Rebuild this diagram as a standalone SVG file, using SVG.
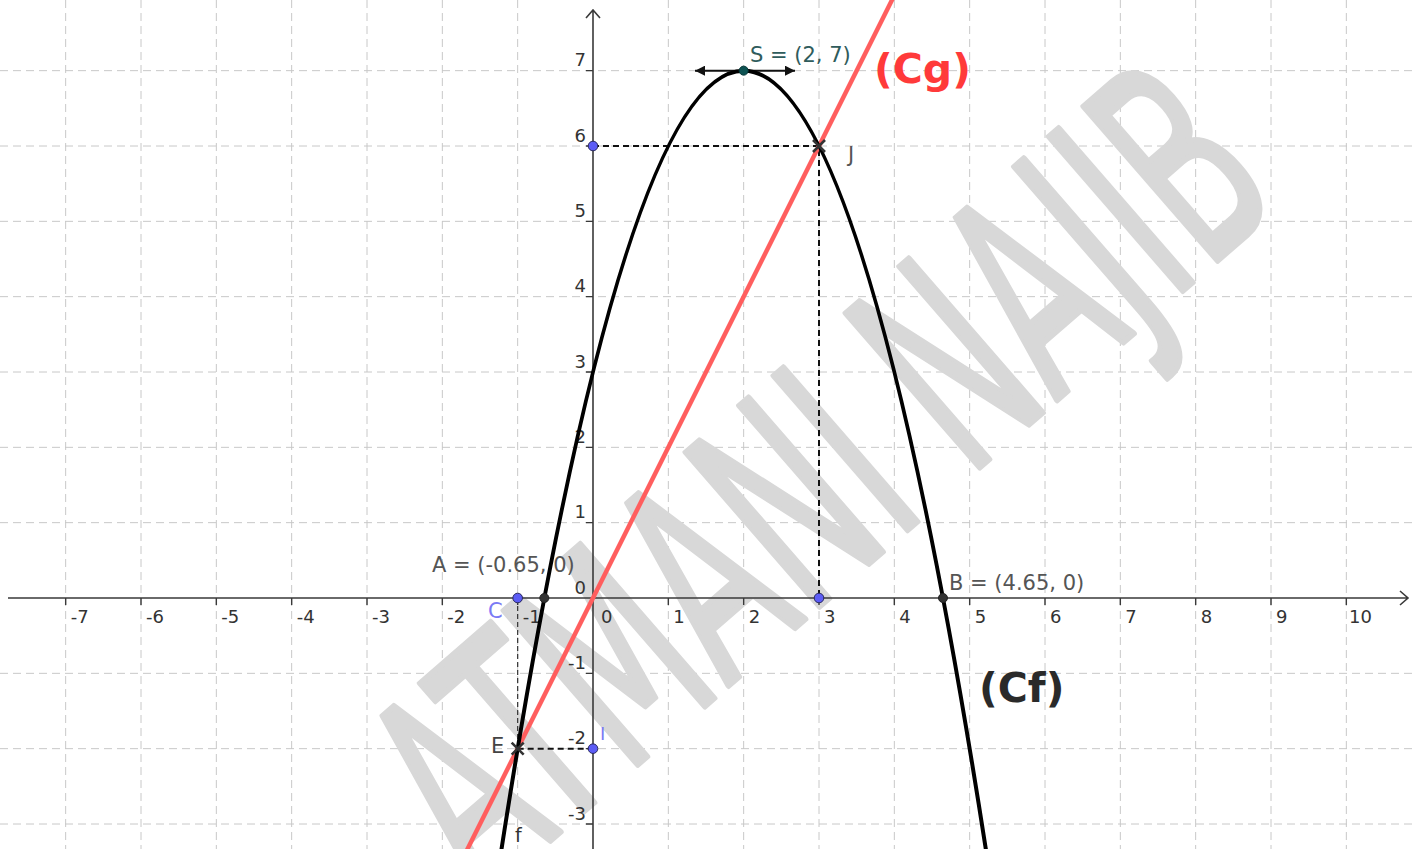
<svg xmlns="http://www.w3.org/2000/svg" width="1416" height="849" viewBox="0 0 1416 849">
<defs>
<style>
.grid{stroke:#c8c8c8;stroke-width:1;stroke-dasharray:8 5;fill:none}
.axis{stroke:#3a3a3a;stroke-width:1.6;fill:none}
.tick{stroke:#3a3a3a;stroke-width:1.4}
.num{font-family:"DejaVu Sans",sans-serif;font-size:18px;fill:#333}
.ynum{font-family:"DejaVu Sans",sans-serif;font-size:18px;fill:#333;text-anchor:end}
.lbl{font-family:"DejaVu Sans",sans-serif;font-size:21px;fill:#555}
.big{font-family:"DejaVu Sans",sans-serif;font-weight:bold;font-size:41px}
.dash{stroke:#111;stroke-width:2;stroke-dasharray:6 4;fill:none}
.dashthin{stroke:#333;stroke-width:1.2;stroke-dasharray:5 3;fill:none}
.bpt{fill:#5c5cf5;stroke:#2a2a60;stroke-width:1}
.kpt{fill:#333;stroke:#222;stroke-width:1}
.cross{stroke:#333;stroke-width:2.6}
</style>
<marker id="ah" viewBox="0 0 10 10" refX="10" refY="5" markerWidth="15" markerHeight="10" markerUnits="userSpaceOnUse" orient="auto-start-reverse">
<path d="M0 0 L10 5 L0 10 z" fill="#111"/>
</marker>
</defs>
<rect width="1416" height="849" fill="#fff"/>
<g id="grid" class="grid">
<path d="M65.67 0V849M141 0V849M216.33 0V849M291.67 0V849M367 0V849M442.33 0V849M517.67 0V849M668.33 0V849M743.67 0V849M819 0V849M894.33 0V849M969.67 0V849M1045 0V849M1120.33 0V849M1195.67 0V849M1271 0V849M1346.33 0V849"/>
<path d="M0 70.67H1416M0 146H1416M0 221.33H1416M0 296.67H1416M0 372H1416M0 447.33H1416M0 522.67H1416M0 673.33H1416M0 748.67H1416M0 824H1416"/>
</g>
<g id="watermark">
<text transform="translate(482,900) rotate(-41)" font-family="DejaVu Sans, sans-serif" font-size="280" textLength="1065" lengthAdjust="spacingAndGlyphs" fill="#d8d8d8" stroke="#d8d8d8" stroke-width="6" stroke-linejoin="round">ATMANI NAJIB</text>
</g>
<g id="axes">
<path class="axis" d="M8 598H1408M1400 591L1408 598L1400 605"/>
<path class="axis" d="M593 849V10M586 18L593 10L600 18"/>
<path class="tick" d="M65.67 598v7M141 598v7M216.33 598v7M291.67 598v7M367 598v7M442.33 598v7M517.67 598v7M668.33 598v7M743.67 598v7M819 598v7M894.33 598v7M969.67 598v7M1045 598v7M1120.33 598v7M1195.67 598v7M1271 598v7M1346.33 598v7"/>
<path class="tick" d="M586 70.67h7M586 146h7M586 221.33h7M586 296.67h7M586 372h7M586 447.33h7M586 522.67h7M586 673.33h7M586 748.67h7M586 824h7"/>
<g class="num">
<text x="70.67" y="623">-7</text><text x="146" y="623">-6</text><text x="221.33" y="623">-5</text><text x="296.67" y="623">-4</text><text x="372" y="623">-3</text><text x="447.33" y="623">-2</text><text x="522.67" y="623">-1</text><text x="601" y="623">0</text><text x="673.33" y="623">1</text><text x="748.67" y="623">2</text><text x="824" y="623">3</text><text x="899.33" y="623">4</text><text x="974.67" y="623">5</text><text x="1050" y="623">6</text><text x="1125.33" y="623">7</text><text x="1200.67" y="623">8</text><text x="1276" y="623">9</text><text x="1349" y="623">10</text>
</g>
<g class="ynum">
<text x="586" y="66.2">7</text><text x="586" y="141.5">6</text><text x="586" y="216.8">5</text><text x="586" y="292.2">4</text><text x="586" y="367.5">3</text><text x="586" y="442.8">2</text><text x="586" y="518.2">1</text><text x="586" y="593.5">0</text><text x="586" y="668.8">-1</text><text x="586" y="744.2">-2</text><text x="586" y="819.5">-3</text>
</g>
</g>
<g id="connectors">
<path class="dash" d="M593 146H819V598"/>
<path class="dashthin" d="M517.67 598V748.67"/>
<path class="dash" d="M517.67 748.67H593"/>
<path d="M695 70.67H795" stroke="#111" stroke-width="2" marker-start="url(#ah)" marker-end="url(#ah)"/>
</g>
<g id="Cg">
<path d="M449.87 884.27L901.87 -19.73" stroke="#ff5e5e" stroke-width="4.5" fill="none"/>
<text class="big" x="874" y="83" fill="#ff3a3a">(Cg)</text>
</g>
<g id="Cf">
<path d="M495.07 891.05Q743.67 -749.7 992.27 891.05" stroke="#000" stroke-width="4" fill="none"/>
<text class="big" x="979" y="702" fill="#2a2a2a">(Cf)</text>
<text x="515" y="842" font-family="DejaVu Sans, sans-serif" font-size="19" fill="#333">f</text>
</g>
<g id="point-S">
<circle cx="743.67" cy="70.67" r="4.5" fill="#0d5252" stroke="#063838" stroke-width="1"/>
<text class="lbl" x="750" y="62" style="fill:#2f5c5c">S = (2, 7)</text>
</g>
<g id="point-J">
<path class="cross" d="M813 140L825 152M825 140L813 152"/>
<text class="lbl" x="848" y="162">J</text>
</g>
<g id="point-A">
<circle class="kpt" cx="544.35" cy="598" r="4.5"/>
<text class="lbl" x="432" y="572">A = (-0.65, 0)</text>
</g>
<g id="point-B">
<circle class="kpt" cx="942.98" cy="598" r="4.5"/>
<text class="lbl" x="949" y="590">B = (4.65, 0)</text>
</g>
<g id="point-C">
<circle class="bpt" cx="517.67" cy="598" r="4.8"/>
<text class="lbl" x="488" y="618" style="fill:#7a7af5">C</text>
</g>
<g id="point-E">
<path class="cross" d="M511.67 742.67L523.67 754.67M523.67 742.67L511.67 754.67"/>
<text class="lbl" x="491" y="753" style="fill:#444">E</text>
</g>
<g id="point-I">
<circle class="bpt" cx="593" cy="748.67" r="4.8"/>
<text x="600" y="740" font-family="DejaVu Sans, sans-serif" font-size="18" fill="#7a7af5">I</text>
</g>
<g id="point-06">
<circle class="bpt" cx="593" cy="146" r="4.8"/>
</g>
<g id="point-30">
<circle class="bpt" cx="819" cy="598" r="4.8"/>
</g>
</svg>
